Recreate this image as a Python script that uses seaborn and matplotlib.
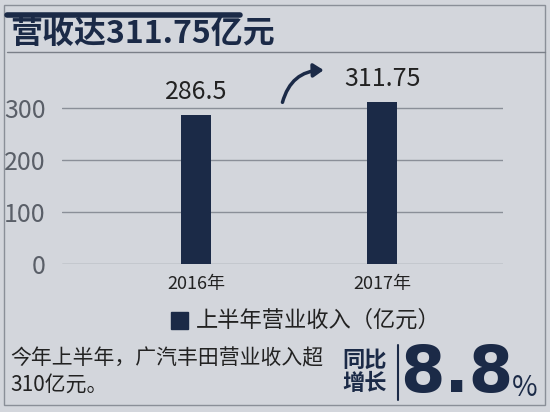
import matplotlib
matplotlib.use("Agg")
import matplotlib.pyplot as plt
import seaborn as sns
import pandas as pd
from matplotlib.patches import FancyArrowPatch, Rectangle

years = ["2016年", "2017年"]
revenue = [286.5, 311.75]
yticks = [0, 100, 200, 300]
title = "营收达311.75亿元"
legend_label = "上半年营业收入（亿元）"
note = "今年上半年，广汽丰田营业收入超\n310亿元。"
growth = "8.8"

sns.set_theme(style="white")
plt.rcParams['font.family'] = ['Noto Sans CJK SC', 'DejaVu Sans']
BG = "#d3d6dc"; NAVY = "#1b2a47"; GREY = "#5a5f68"

fig = plt.figure(figsize=(5.5, 4.12), dpi=100, facecolor=BG)
ax = fig.add_axes([0.113, 0.359, 0.802, 0.481])
ax.set_facecolor(BG)
df = pd.DataFrame({"year": years, "rev": revenue})
sns.barplot(data=df, x="year", y="rev", color=NAVY, width=0.16, ax=ax, saturation=1,
            zorder=3, edgecolor="none", linewidth=0)
ax.set_xlim(-0.72, 1.65)
ax.set_ylim(0, 380)
ax.set_yticks(yticks)
ax.yaxis.grid(True, color="#8a8f98", lw=1, zorder=0)
for s in ax.spines.values():
    s.set_visible(False)
ax.set_xlabel(""); ax.set_ylabel("")
ax.tick_params(axis="y", labelsize=18, labelcolor=GREY, length=0, pad=12)
ax.tick_params(axis="x", labelsize=13, labelcolor="#222", length=0, pad=8)
for i, v in enumerate(revenue):
    ax.text(i, v + 18, f"{v:g}", ha="center", va="bottom", fontsize=18, color="#222")
ax.add_patch(FancyArrowPatch((0.46, 305), (0.7, 372), connectionstyle="arc3,rad=-0.4",
                             arrowstyle="-|>,head_length=6,head_width=4", color=NAVY, lw=2.5,
                             clip_on=False, zorder=5))

fig.add_artist(Rectangle((4/550, 1-405/412), 541/550, 400/412, transform=fig.transFigure,
                         fill=False, ec="#8a8f98", lw=1))
fig.add_artist(plt.Line2D([7/550, 240/550], [1-15/412]*2, color=NAVY, lw=4))
fig.add_artist(plt.Line2D([7/550, 545/550], [1-52/412]*2, color="#7a7f88", lw=1))
fig.text(10/550, 1-34/412, title, fontsize=23, fontweight="bold", color=NAVY, va="center")

fig.add_artist(Rectangle((171/550, 1-329/412), 17/550, 17/412, transform=fig.transFigure,
                         color=NAVY))
fig.text(196/550, 1-320/412, legend_label, fontsize=16, color="#222", va="center")

fig.text(10/550, 1-372/412, note, fontsize=15, color="#222", va="center", linespacing=1.25)
fig.text(342/550, 1-372/412, "同比\n增长", fontsize=16, fontweight="bold", color=NAVY,
         va="center", linespacing=1.0)
fig.add_artist(plt.Line2D([398/550]*2, [1-345/412, 1-400/412], color=NAVY, lw=1.5))
fig.text(400/550, 1-374/412, growth, fontsize=46, fontweight="bold", color=NAVY, va="center",
         family=["DejaVu Sans"])
fig.text(512/550, 1-388/412, "%", fontsize=20, color=NAVY, va="center")

fig.savefig("out.png", dpi=100, facecolor=BG)
